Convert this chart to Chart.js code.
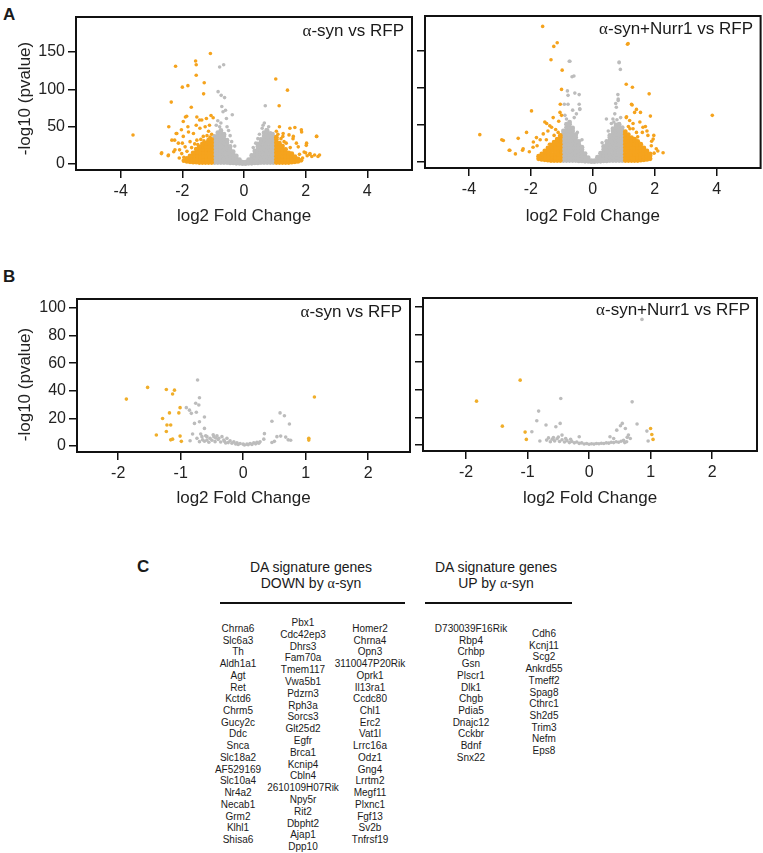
<!DOCTYPE html>
<html>
<head>
<meta charset="utf-8">
<script src="https://cdn.jsdelivr.net/npm/chart.js@4.4.0/dist/chart.umd.min.js"></script>
<style>
body { margin: 0; background: #fff; font-family: "Liberation Sans", Arial, sans-serif; color: #1a1a1a; }
#fig { position: relative; width: 763px; height: 853px; overflow: hidden; }
canvas { position: absolute; }
.lbl { position: absolute; font-weight: bold; font-size: 17px; line-height: 18px; }
.ptitle { position: absolute; font-size: 17px; line-height: 18px; white-space: nowrap; }
.g { font-family: "Liberation Serif", "Times New Roman", serif; }
.hdr { position: absolute; width: 200px; text-align: center; font-size: 14px; line-height: 16px; }
.rule { position: absolute; height: 2px; background: #111; }
.col { position: absolute; width: 120px; text-align: center; font-size: 10px; line-height: 11.72px; }
</style>
</head>
<body>
<div id="fig">
  <div class="lbl" style="left:3px;top:6px">A</div>
  <div class="lbl" style="left:3px;top:268px">B</div>
  <div class="lbl" style="left:137px;top:558px">C</div>

  <canvas id="cA1" width="418" height="232" style="left:0;top:0"></canvas>
  <canvas id="cA2" width="350" height="232" style="left:413px;top:0"></canvas>
  <canvas id="cB1" width="418" height="260" style="left:0;top:260px"></canvas>
  <canvas id="cB2" width="350" height="260" style="left:413px;top:260px"></canvas>

  <div class="ptitle" style="right:359px;top:22px"><span class="g">α</span>-syn vs RFP</div>
  <div class="ptitle" style="right:10px;top:20px"><span class="g">α</span>-syn+Nurr1 vs RFP</div>
  <div class="ptitle" style="right:361px;top:303px"><span class="g">α</span>-syn vs RFP</div>
  <div class="ptitle" style="right:13px;top:301px"><span class="g">α</span>-syn+Nurr1 vs RFP</div>

  <div class="hdr" style="left:211px;top:559px">DA signature genes<br>DOWN by <span class="g">α</span>-syn</div>
  <div class="hdr" style="left:396px;top:559px">DA signature genes<br>UP by <span class="g">α</span>-syn</div>
  <div class="rule" style="left:220px;top:602px;width:185px"></div>
  <div class="rule" style="left:425px;top:602px;width:147px"></div>

  <div class="col" id="g1" style="left:178px;top:623px"></div>
  <div class="col" id="g2" style="left:243px;top:617px;line-height:11.8px"></div>
  <div class="col" id="g3" style="left:310px;top:623px"></div>
  <div class="col" id="g4" style="left:411px;top:623px"></div>
  <div class="col" id="g5" style="left:484px;top:628px"></div>
</div>

<script>
// axis ticks
const aXTicks = [-4, -2, 0, 2, 4];
const aYTicks = [0, 50, 100, 150];
const bXTicks = [-2, -1, 0, 1, 2];
const bYTicks = [0, 20, 40, 60, 80, 100];

// gene lists (panel C)
const downGenes1 = ['Chrna6', 'Slc6a3', 'Th', 'Aldh1a1', 'Agt', 'Ret', 'Kctd6', 'Chrm5', 'Gucy2c', 'Ddc', 'Snca', 'Slc18a2', 'AF529169', 'Slc10a4', 'Nr4a2', 'Necab1', 'Grm2', 'Klhl1', 'Shisa6'];
const downGenes2 = ['Pbx1', 'Cdc42ep3', 'Dhrs3', 'Fam70a', 'Tmem117', 'Vwa5b1', 'Pdzrn3', 'Rph3a', 'Sorcs3', 'Glt25d2', 'Egfr', 'Brca1', 'Kcnip4', 'Cbln4', '2610109H07Rik', 'Npy5r', 'Rit2', 'Dbpht2', 'Ajap1', 'Dpp10'];
const downGenes3 = ['Homer2', 'Chrna4', 'Opn3', '3110047P20Rik', 'Oprk1', 'Il13ra1', 'Ccdc80', 'Chl1', 'Erc2', 'Vat1l', 'Lrrc16a', 'Odz1', 'Gng4', 'Lrrtm2', 'Megf11', 'Plxnc1', 'Fgf13', 'Sv2b', 'Tnfrsf19'];
const upGenes1 = ['D730039F16Rik', 'Rbp4', 'Crhbp', 'Gsn', 'Plscr1', 'Dlk1', 'Chgb', 'Pdia5', 'Dnajc12', 'Cckbr', 'Bdnf', 'Snx22'];
const upGenes2 = ['Cdh6', 'Kcnj11', 'Scg2', 'Ankrd55', 'Tmeff2', 'Spag8', 'Cthrc1', 'Sh2d5', 'Trim3', 'Nefm', 'Eps8'];

// ---- panel A, alpha-syn vs RFP ----
// dense parts read column by column: [log2FC, [-log10 p ...]]
const a1GrayCore = [
  [-0.95, [2, 6, 10.5, 15, 19.5, 24, 28.5, 33, 37]],
  [-0.85, [2, 6, 10.5, 15, 19.5, 24, 28.5, 33, 37.5, 42]],
  [-0.75, [2, 6, 10.5, 15, 19.5, 24, 28.5, 33, 37.5, 42, 45]],
  [-0.65, [2, 6, 10.5, 15, 19.5, 24, 28.5, 33, 37.5, 40]],
  [-0.55, [2, 6, 10.5, 15, 19.5, 24, 28.5, 32]],
  [-0.45, [1.5, 5.5, 10, 14.5, 19, 23.5]],
  [-0.35, [1.5, 5, 9, 13, 16.5]],
  [-0.25, [1, 4.5, 8, 11]],
  [-0.15, [1, 3.5, 6]],
  [-0.05, [0.5, 2.5]],
  [0.05, [0.5, 2.5]],
  [0.15, [1, 3.5, 6]],
  [0.25, [1, 4.5, 8, 11.5]],
  [0.35, [1.5, 5, 9, 13, 17.5]],
  [0.45, [1.5, 5.5, 10, 14.5, 19, 23.5, 27]],
  [0.55, [2, 6, 10.5, 15, 19.5, 24, 28.5, 33]],
  [0.65, [2, 6, 10.5, 15, 19.5, 24, 28.5, 33, 37.5, 42]],
  [0.75, [2, 6, 10.5, 15, 19.5, 24, 28.5, 33, 37.5, 42, 45]],
  [0.85, [2, 6, 10.5, 15, 19.5, 24, 28.5, 33, 37.5, 41]],
  [0.95, [2, 6, 10.5, 15, 19.5, 24, 28.5, 33, 37]]
];
const a1DownCore = [
  [-1.05, [2, 6, 10.5, 15, 19.5, 24, 28.5, 33]],
  [-1.15, [2, 6, 10.5, 15, 19.5, 24, 28.5, 32]],
  [-1.25, [2, 6, 10.5, 15, 19.5, 24, 28]],
  [-1.35, [2, 6, 10.5, 15, 19.5, 24, 27]],
  [-1.45, [2, 6, 10.5, 15, 19.5, 23]],
  [-1.55, [2.5, 6.5, 11, 15.5, 20]],
  [-1.65, [2.5, 6.5, 11, 15]],
  [-1.75, [3, 7, 11]],
  [-1.85, [3.5, 7.5]],
  [-1.95, [4.5]]
];
const a1UpCore = [
  [1.05, [2, 6, 10.5, 15, 19.5, 24, 28.5, 33, 36]],
  [1.15, [2, 6, 10.5, 15, 19.5, 24, 28]],
  [1.25, [2, 6, 10.5, 15, 19.5, 24]],
  [1.35, [2, 6, 10.5, 15, 19.5]],
  [1.45, [2, 6, 10.5, 15]],
  [1.55, [2.5, 6.5, 11, 14]],
  [1.65, [3, 7, 10]],
  [1.75, [3.5, 7]],
  [1.85, [5]]
];
const a1Sig = [
  [-3.6, 38.8], [-1.09, 148], [-1.57, 138], [-1.55, 133], [-2.22, 131], [-1.55, 119], [-1.29, 109], [-2.0, 103],
  [-1.82, 105], [-1.31, 94], [-2.36, 83], [-1.71, 76], [-1.0, 62], [-1.9, 63], [-1.44, 59], [-1.22, 61],
  [-2.44, 50], [-2.03, 46], [-1.82, 50], [-1.55, 52], [-2.68, 14], [-2.46, 11], [-2.28, 16.5], [-2.25, 32],
  [-2.2, 41], [-2.0, 28], [-2.09, 19], [-1.86, 64], [-1.97, 57], [-1.53, 63], [-1.37, 59], [-1.07, 65],
  [-2.18, 41], [-1.97, 37], [-1.8, 43], [-1.64, 41], [-1.43, 48], [-1.26, 50], [-1.12, 52], [-2.34, 32],
  [-2.13, 28], [-1.91, 23], [-1.75, 30], [-1.53, 32], [-1.32, 37], [-2.67, 15], [-2.45, 12], [-2.24, 19],
  [-2.02, 14], [-1.05, 40], [-1.15, 44], [-1.2, 38], [-1.4, 33], [-1.6, 27], [-1.7, 22], [-1.85, 17],
  [-1.1, 36], [-1.3, 31], [-1.5, 26], [-1.95, 9], [-2.1, 8],
  [1.03, 114], [1.41, 99], [1.14, 78], [1.65, 49], [1.86, 46], [2.35, 37], [2.02, 25], [2.0, 15],
  [2.13, 13], [2.29, 12], [2.45, 12], [1.26, 37], [1.46, 39], [1.59, 34], [1.7, 28], [1.37, 28],
  [1.21, 23], [1.49, 48], [1.27, 41], [1.6, 37], [1.87, 43], [2.03, 28], [1.76, 23], [2.36, 37],
  [2.14, 14], [2.2, 10], [2.05, 11], [2.4, 10], [1.9, 8], [1.1, 40], [1.2, 34], [1.3, 30],
  [1.5, 22], [1.8, 13], [1.95, 16], [1.05, 44], [1.15, 50]
];
const a1Ns = [
  [-0.79, 130], [-0.66, 133], [-0.84, 97], [-0.74, 92], [-0.63, 89], [-0.38, 66], [-0.57, 61], [-0.79, 50],
  [-0.72, 77], [-0.68, 70], [-0.6, 72], [-0.85, 58], [-0.9, 52], [-0.75, 55], [-0.55, 50], [-0.5, 45],
  [-0.45, 38], [-0.3, 24], [-0.4, 30], [0.69, 78], [0.38, 28], [0.59, 48], [0.72, 46], [0.94, 41],
  [0.62, 52], [0.8, 50], [0.66, 55], [0.5, 40], [0.45, 34], [0.3, 22]
];

// ---- panel A, alpha-syn+Nurr1 vs RFP ----
const a2GrayCore = [
  [-0.95, [2, 6, 10.5, 15, 19.5, 24, 28.5, 33, 37.5, 42]],
  [-0.85, [2, 6, 10.5, 15, 19.5, 24, 28.5, 33, 37.5, 42, 46.5, 51]],
  [-0.75, [2, 6, 10.5, 15, 19.5, 24, 28.5, 33, 37.5, 42, 46.5, 51, 54]],
  [-0.65, [2, 6, 10.5, 15, 19.5, 24, 28.5, 33, 37.5, 42, 46]],
  [-0.55, [2, 6, 10.5, 15, 19.5, 24, 28.5, 33, 37]],
  [-0.45, [1.5, 5.5, 10, 14.5, 19, 23.5, 28]],
  [-0.35, [1.5, 5, 9, 13, 17, 20]],
  [-0.25, [1, 4.5, 8, 11.5]],
  [-0.15, [1, 3.5, 6]],
  [-0.05, [0.5, 2]],
  [0.05, [0.5, 2]],
  [0.15, [1, 3.5, 6.5]],
  [0.25, [1, 4.5, 8, 12]],
  [0.35, [1.5, 5, 9, 13, 17, 21]],
  [0.45, [1.5, 5.5, 10, 14.5, 19, 23.5, 28]],
  [0.55, [2, 6, 10.5, 15, 19.5, 24, 28.5, 33, 36]],
  [0.65, [2, 6, 10.5, 15, 19.5, 24, 28.5, 33, 37.5, 42, 45]],
  [0.75, [2, 6, 10.5, 15, 19.5, 24, 28.5, 33, 37.5, 42, 46.5, 50]],
  [0.85, [2, 6, 10.5, 15, 19.5, 24, 28.5, 33, 37.5, 42, 46.5, 51]],
  [0.95, [2, 6, 10.5, 15, 19.5, 24, 28.5, 33, 37.5, 42, 46.5]]
];
const a2DownCore = [
  [-1.05, [2, 6, 10.5, 15, 19.5, 24, 28.5, 33, 36]],
  [-1.15, [2, 6, 10.5, 15, 19.5, 24, 28.5, 31]],
  [-1.25, [2, 6, 10.5, 15, 19.5, 24, 27]],
  [-1.35, [2, 6, 10.5, 15, 19.5, 23]],
  [-1.45, [2.5, 6.5, 11, 15, 19]],
  [-1.55, [3, 7, 11, 15]],
  [-1.65, [3.5, 7.5, 11]],
  [-1.75, [4.5, 8]]
];
const a2UpCore = [
  [1.05, [2, 6, 10.5, 15, 19.5, 24, 28.5, 33, 37.5, 41]],
  [1.15, [2, 6, 10.5, 15, 19.5, 24, 28.5, 33, 37]],
  [1.25, [2, 6, 10.5, 15, 19.5, 24, 28.5, 33]],
  [1.35, [2, 6, 10.5, 15, 19.5, 24, 28.5, 31]],
  [1.45, [2, 6, 10.5, 15, 19.5, 24, 28]],
  [1.55, [2.5, 6.5, 11, 15.5, 20, 24]],
  [1.65, [3, 7, 11.5, 16, 19]],
  [1.75, [3.5, 7.5, 11.5, 15]],
  [1.85, [4.5, 8.5, 11]]
];
const a2Sig = [
  [-1.62, 183], [-1.26, 156], [-1.15, 161], [-1.35, 138], [-0.99, 124], [-1.01, 98], [-1.98, 69], [-3.65, 37],
  [-2.94, 30], [-2.70, 16], [-2.41, 32], [-2.14, 40], [-2.27, 16], [-1.06, 67], [-1.28, 60], [-1.55, 54],
  [-1.39, 49], [-1.82, 33], [-1.92, 27], [-1.01, 63], [-1.49, 52], [-1.33, 47], [-1.12, 40], [-1.6, 38],
  [-2.89, 29], [-2.68, 16], [-2.25, 18], [-1.93, 20], [-1.2, 44], [-1.45, 42], [-1.7, 30], [-1.1, 55],
  [-1.25, 36], [-1.5, 30], [-1.8, 22], [-2.05, 14], [-1.05, 78], [-2.5, 11], [-1.4, 24],
  [1.12, 159], [1.14, 160], [1.08, 105], [1.28, 101], [1.82, 92], [1.27, 77], [1.41, 71], [1.54, 67],
  [1.08, 60], [1.19, 56], [1.86, 62], [1.70, 48], [1.97, 36], [2.27, 12.5], [3.86, 63], [1.41, 40],
  [1.25, 78], [1.35, 67], [1.09, 61], [1.52, 54], [1.62, 47], [1.30, 45], [1.78, 36], [1.95, 31],
  [1.89, 22], [2.05, 18], [1.6, 40], [1.75, 42], [1.15, 48], [1.3, 52], [1.45, 34], [1.2, 45],
  [1.9, 28], [2.1, 15], [1.98, 12]
];
const a2Ns = [
  [-0.74, 136], [-0.76, 136], [-0.67, 115], [-0.61, 116], [-0.82, 96], [-0.58, 93], [-0.44, 91], [-0.8, 90],
  [-0.92, 78], [-0.44, 78], [-0.42, 71], [0.85, 135], [0.89, 125], [0.85, 134], [0.81, 91], [0.82, 85],
  [0.74, 79], [0.68, 54], [-0.8, 78], [-0.42, 72], [-0.53, 65], [-0.9, 63], [-0.77, 52], [0.82, 83],
  [0.76, 74], [0.44, 58], [0.71, 65], [0.6, 52], [-0.6, 60], [-0.85, 58], [-0.65, 70], [0.9, 60],
  [0.5, 42], [0.65, 58], [-0.35, 30], [-0.5, 40], [0.3, 26], [0.78, 57]
];

// ---- panel B, alpha-syn vs RFP ----
const b1Sig = [
  [-1.87, 34], [-1.53, 42.5], [-1.23, 41], [-1.10, 40.5], [-1.13, 37.7], [-1.01, 27.8], [-1.03, 24], [-1.18, 24],
  [-1.29, 20], [-1.22, 15.2], [-1.16, 15.2], [-1.23, 10.6], [-1.39, 8], [-1.13, 5], [-1.16, 4.5], [-1.01, 7.2],
  [-0.99, 3.4], [1.14, 35.5], [1.05, 5.6], [1.05, 4.3]
];
const b1Ns = [
  [-0.73, 47.8], [-0.70, 35], [-0.91, 27.8], [-0.86, 26], [-0.71, 29.7], [-0.76, 31], [-0.83, 23.7], [-0.75, 24.5],
  [-0.62, 21], [-0.78, 16.4], [-0.70, 17.6], [-0.62, 12.8], [-0.81, 8.7], [-0.68, 8.7], [-0.58, 6.8], [-0.85, 3.9],
  [-0.74, 5.6], [-0.66, 6.8], [-0.58, 4.3], [-0.53, 5.6], [-0.47, 6.8], [-0.42, 7.5], [-0.39, 5.6], [-0.34, 6.8],
  [-0.31, 4.3], [-0.26, 5.6], [-0.21, 3.9], [-0.15, 3.1], [-0.1, 2.4], [-0.05, 1.9], [0, 1.4], [0.06, 1.4],
  [0.11, 1.9], [0.17, 2.4], [0.22, 2.7], [0.27, 3.1], [-0.7, 3.2], [-0.62, 3.5], [-0.55, 2.8], [-0.5, 4.2],
  [-0.45, 3.2], [-0.4, 4.8], [-0.36, 2.9], [-0.3, 3.4], [-0.24, 2.5], [-0.18, 2.1], [-0.12, 1.5], [-0.08, 1.1],
  [0.02, 0.8], [0.08, 1], [0.14, 1.2], [0.2, 1.6], [0.25, 2], [-0.65, 4.6], [-0.44, 5.8], [-0.28, 2.2],
  [-0.6, 7.5], [-0.48, 8.2],
  [0.34, 9], [0.46, 18], [0.59, 24], [0.66, 22], [0.74, 16], [0.54, 6.8], [0.6, 7.2], [0.68, 6.5],
  [0.72, 4.5], [0.5, 3.4], [0.46, 2.6], [0.76, 4.2], [0.33, 5]
];

// ---- panel B, alpha-syn+Nurr1 vs RFP ----
const b2Sig = [
  [-1.12, 47], [-1.83, 31.8], [-1.41, 13.7], [-1.04, 9.4], [-1.02, 4.1], [1.00, 12], [1.02, 7.7], [1.04, 4.1]
];
const b2Ns = [
  [0.86, 91], [-0.46, 33.7], [0.70, 31.3], [-0.82, 24.6], [-0.85, 17.6], [-0.70, 14.5], [-0.54, 13.3], [-0.47, 15.7],
  [-0.93, 9.6], [0.78, 15.2], [0.54, 15.7], [0.59, 12], [0.45, 10.8], [0.51, 14], [0.64, 7.2], [0.67, 4.8],
  [0.61, 2.4], [0.94, 10.1], [0.96, 2.9], [0.34, 6], [0.4, 4.8], [-0.16, 6], [-0.44, 7.2],
  [-0.8, 2.9], [-0.69, 3.6], [-0.63, 2.4], [-0.6, 4.2], [-0.56, 3], [-0.52, 4.6], [-0.48, 2.6], [-0.44, 3.8],
  [-0.4, 2.2], [-0.36, 3.2], [-0.32, 1.8], [-0.28, 2.6], [-0.24, 1.6], [-0.2, 2.2], [-0.16, 1.2], [-0.12, 1.6],
  [-0.08, 0.8], [-0.04, 1.1], [0, 0.6], [0.04, 0.9], [0.08, 0.7], [0.12, 1.1], [0.16, 0.9], [0.2, 1.3],
  [0.24, 1.1], [0.28, 1.6], [0.32, 1.4], [0.36, 2], [0.4, 1.8], [0.44, 2.4], [0.48, 2], [0.52, 2.8],
  [0.56, 3.4], [-0.58, 5.4], [-0.5, 5.8], [-0.38, 4.8], [-0.3, 4.2], [-0.66, 5.2], [0.62, 5.6], [0.58, 1.8]
];

const ORANGE = '#f5a31d';
const ORANGE_B = '#f0ae2a';
const GRAY = '#bcbcbc';
const FONT = '"Liberation Sans", Arial, sans-serif';

// turn the data lists into chart points
function pairs(list) {
  return list.map(([x, y]) => ({ x, y }));
}
function columns(list) {
  return list.flatMap(([x, ys]) => ys.map(y => ({ x, y })));
}
function dots(data, color, r) {
  return { data, backgroundColor: color, borderWidth: 0, pointRadius: r, pointHoverRadius: r };
}

// black frame around the plot area
const framePlugin = {
  id: 'frame',
  afterDatasetsDraw(chart) {
    const { ctx, chartArea: a } = chart;
    ctx.save();
    ctx.strokeStyle = '#111';
    ctx.lineWidth = 2;
    ctx.strokeRect(a.left, a.top, a.right - a.left, a.bottom - a.top);
    ctx.restore();
  }
};

// y title, drawn a bit below the middle of the axis as in the figure
const yTitlePlugin = {
  id: 'yTitle',
  afterDraw(chart, args, opts) {
    if (!opts.text) return;
    const { ctx, chartArea: a } = chart;
    ctx.save();
    ctx.translate(25, (a.top + a.bottom) / 2 + opts.shift);
    ctx.rotate(-Math.PI / 2);
    ctx.font = '17px ' + FONT;
    ctx.fillStyle = '#222';
    ctx.textAlign = 'center';
    ctx.textBaseline = 'middle';
    ctx.fillText(opts.text, 0, 0);
    ctx.restore();
  }
};

function makeChart(id, p) {
  const ctx = document.getElementById(id).getContext('2d');
  return new Chart(ctx, {
    type: 'scatter',
    data: { datasets: p.datasets },
    plugins: [framePlugin, yTitlePlugin],
    options: {
      responsive: false,
      animation: false,
      events: [],
      layout: { padding: { top: p.padTop, right: p.padRight, left: 0, bottom: 0 } },
      plugins: {
        legend: { display: false },
        tooltip: { enabled: false },
        yTitle: { text: p.yLabels ? '-log10 (pvalue)' : '', shift: p.yTitleShift || 0 }
      },
      scales: {
        x: {
          type: 'linear', min: p.xMin, max: p.xMax,
          afterBuildTicks: s => { s.ticks = p.xTicks.map(v => ({ value: v })); },
          afterFit: s => { s.height = p.xH; },
          grid: { drawOnChartArea: false, color: '#111', lineWidth: 1.5, tickLength: 8 },
          border: { display: false },
          ticks: { font: { family: FONT, size: 16 }, color: '#222', padding: 4, maxRotation: 0 },
          title: { display: true, text: 'log2 Fold Change', color: '#222',
                   font: { family: FONT, size: 17 }, padding: { top: 0, bottom: p.xTitlePad } }
        },
        y: {
          type: 'linear', min: p.yMin, max: p.yMax,
          afterBuildTicks: s => { s.ticks = p.yTicks.map(v => ({ value: v })); },
          afterFit: s => { s.width = p.yW; },
          grid: { drawOnChartArea: false, color: '#111', lineWidth: 1.5, tickLength: 8 },
          border: { display: false },
          ticks: { display: p.yLabels, font: { family: FONT, size: 16 }, color: '#222', padding: 3 }
        }
      }
    }
  });
}

makeChart('cA1', {
  padTop: 17, padRight: 6, yW: 76, xH: 62, xTitlePad: 5, yTitleShift: 5,
  xMin: -5.45, xMax: 5.45, yMin: -8, yMax: 197, xTicks: aXTicks, yTicks: aYTicks, yLabels: true,
  datasets: [
    dots(pairs(a1Sig), ORANGE, 1.8),
    dots(columns(a1DownCore), ORANGE, 2.4),
    dots(columns(a1UpCore), ORANGE, 2.4),
    dots(pairs(a1Ns), GRAY, 1.8),
    dots(columns(a1GrayCore), GRAY, 2.4)
  ]
});

makeChart('cA2', {
  padTop: 16, padRight: 2, yW: 12, xH: 64, xTitlePad: 5,
  xMin: -5.42, xMax: 5.42, yMin: -8, yMax: 197, xTicks: aXTicks, yTicks: aYTicks, yLabels: false,
  datasets: [
    dots(pairs(a2Sig), ORANGE, 1.8),
    dots(columns(a2DownCore), ORANGE, 2.4),
    dots(columns(a2UpCore), ORANGE, 2.4),
    dots(pairs(a2Ns), GRAY, 1.8),
    dots(columns(a2GrayCore), GRAY, 2.4)
  ]
});

makeChart('cB1', {
  padTop: 39, padRight: 8, yW: 77, xH: 68, xTitlePad: 11, yTitleShift: 9,
  xMin: -2.66, xMax: 2.67, yMin: -4.3, yMax: 106.5, xTicks: bXTicks, yTicks: bYTicks, yLabels: true,
  datasets: [
    dots(pairs(b1Sig), ORANGE_B, 1.8),
    dots(pairs(b1Ns), GRAY, 1.8)
  ]
});

makeChart('cB2', {
  padTop: 38, padRight: 6, yW: 10, xH: 69, xTitlePad: 11,
  xMin: -2.7, xMax: 2.73, yMin: -4.3, yMax: 106.5, xTicks: bXTicks, yTicks: bYTicks, yLabels: false,
  datasets: [
    dots(pairs(b2Sig), ORANGE_B, 1.8),
    dots(pairs(b2Ns), GRAY, 1.8)
  ]
});

// gene columns
function fillColumn(id, genes) {
  document.getElementById(id).innerHTML = genes.map(g => '<div>' + g + '</div>').join('');
}
fillColumn('g1', downGenes1);
fillColumn('g2', downGenes2);
fillColumn('g3', downGenes3);
fillColumn('g4', upGenes1);
fillColumn('g5', upGenes2);
</script>
</body>
</html>
